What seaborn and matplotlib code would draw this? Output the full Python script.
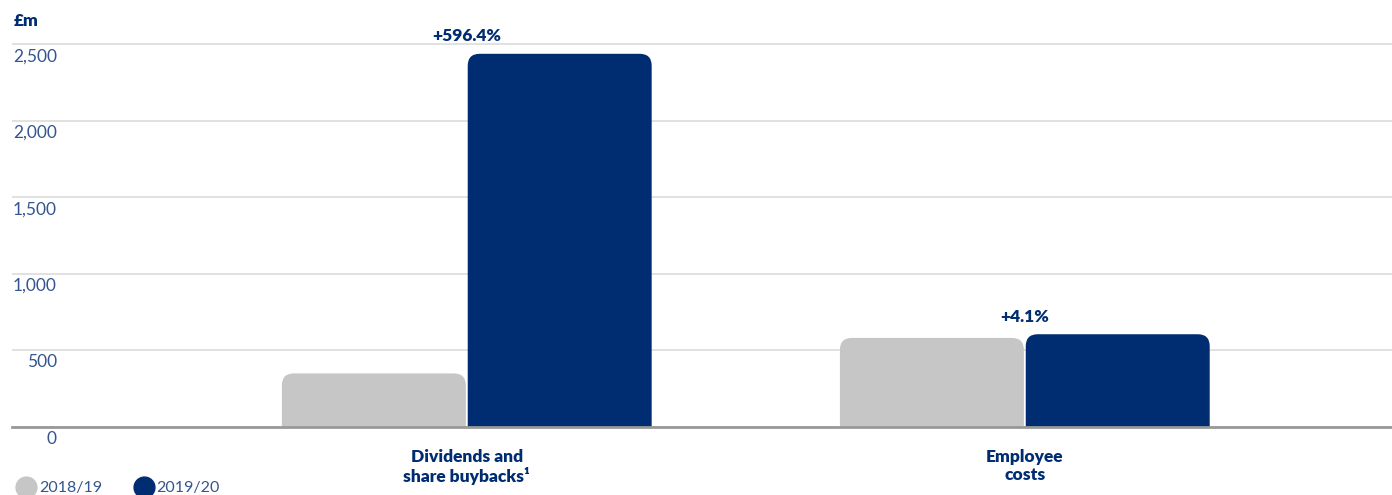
import matplotlib
matplotlib.use("Agg")
import matplotlib.pyplot as plt
import matplotlib.transforms as mtrans
import seaborn as sns
import pandas as pd
from matplotlib.patches import FancyBboxPatch
from matplotlib.lines import Line2D

categories = ["Dividends and\nshare buybacks\u00b9", "Employee\ncosts"]
years = ["2018/19", "2019/20"]
values_2018 = [350, 582]
values_2019 = [2438, 606]
changes = ["+596.4%", "+4.1%"]
yticks = [0, 500, 1000, 1500, 2000, 2500]
ytick_labels = ["0", "500", "1,000", "1,500", "2,000", "2,500"]

GREY = "#c6c6c6"
NAVY = "#002d72"
TICK = "#34558f"

df = pd.DataFrame({
    "category": categories * 2,
    "year": [years[0]] * 2 + [years[1]] * 2,
    "value": values_2018 + values_2019,
})

sns.set_theme(style="white")
plt.rcParams["font.family"] = ["Lato", "DejaVu Sans"]

fig = plt.figure(figsize=(13.92, 4.95), dpi=100)
ax = fig.add_axes([12 / 1392, 1 - 427 / 495, 1 - 12 / 1392, (427 - 29) / 495])

sns.barplot(data=df, x="category", y="value", hue="year", order=categories,
            hue_order=years, palette=[GREY, NAVY], width=0.666, gap=0.01,
            saturation=1, ax=ax, legend=False)

ax.set_xlim(-0.815, 1 + 0.658)
ax.set_ylim(0, 2600)

# replace bars with top-rounded versions
xr = 12 / 558.0
yr = 12 / (76.6 / 500)
for p in list(ax.patches):
    x, w, h = p.get_x(), p.get_width(), p.get_height()
    fc = p.get_facecolor()
    p.set_visible(False)
    rb = FancyBboxPatch((x, -yr * 2), w, h + yr * 2,
                        boxstyle=f"round,pad=0,rounding_size={xr}",
                        mutation_aspect=yr / xr, facecolor=fc, edgecolor="none",
                        zorder=2, clip_on=True)
    ax.add_patch(rb)

ax.set_yticks(yticks)
ax.set_yticklabels(ytick_labels)
ax.tick_params(axis="y", length=0, pad=-45 * 0.72, labelsize=12.5, labelcolor=TICK)
offset = mtrans.ScaledTranslation(0, -4 / 100, fig.dpi_scale_trans)
for lab in ax.get_yticklabels():
    lab.set_verticalalignment("top")
    lab.set_horizontalalignment("right")
    lab.set_transform(lab.get_transform() + offset)

ax.tick_params(axis="x", length=0, pad=16, labelsize=12.5, labelcolor=NAVY)
for lab in ax.get_xticklabels():
    lab.set_fontweight("heavy")
    lab.set_linespacing(1.15)

ax.grid(axis="y", color="#dcdcdc", linewidth=1.2, zorder=0)
ax.set_axisbelow(True)
for s in ["top", "right", "left"]:
    ax.spines[s].set_visible(False)
ax.spines["bottom"].set_color("#999999")
ax.spines["bottom"].set_linewidth(2)
ax.set_xlabel("")
ax.set_ylabel("")

for i, txt in enumerate(changes):
    top = max(values_2018[i], values_2019[i])
    ax.annotate(txt, (i, top), xytext=(0, 7), textcoords="offset points",
                ha="center", va="bottom", fontsize=12.5, fontweight="heavy",
                color=NAVY, clip_on=False)

fig.text(14 / 1392, 1 - 21 / 495, "£m", fontsize=12.5, fontweight="heavy",
         color=NAVY, va="center", ha="left")

handles = [Line2D([], [], marker="o", linestyle="none", markersize=15,
                  markerfacecolor=c, markeredgecolor=c) for c in [GREY, NAVY]]
leg = fig.legend(handles, years, loc="center left",
                 bbox_to_anchor=(15 / 1392, 1 - 488 / 495), ncol=2, frameon=False,
                 handletextpad=0.1, columnspacing=1.9, handlelength=1.4,
                 borderaxespad=0, borderpad=0, prop={"size": 11.5})
for t in leg.get_texts():
    t.set_color(TICK)

fig.savefig("out.png", dpi=100)
